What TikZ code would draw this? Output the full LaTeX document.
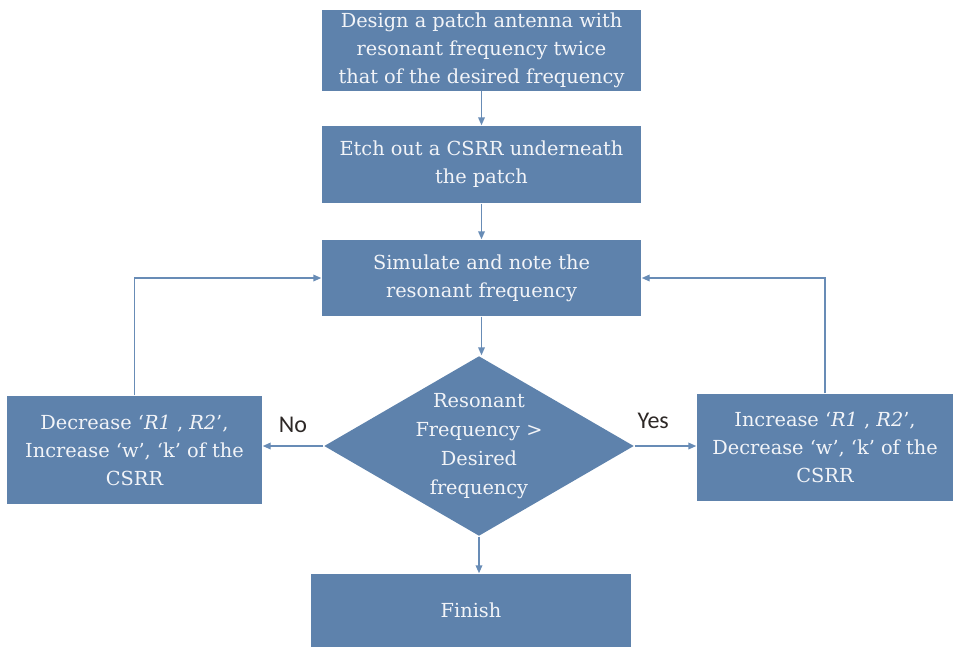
\documentclass[tikz,border=0pt]{standalone}
\usepackage{fontspec}
\setmainfont{DejaVu Serif}
\newfontfamily\answerfont{Carlito}
\usetikzlibrary{arrows.meta, positioning, shapes.geometric}
\definecolor{cbox}{RGB}{94,130,172}
\definecolor{cline}{RGB}{104,140,182}
\definecolor{ctext}{RGB}{242,244,248}
\definecolor{cdark}{RGB}{45,40,38}
\tikzset{
  every picture/.style={line width=1.1pt},
  stepbox/.style={fill=cbox, text=ctext, align=center, inner sep=2pt, font=\fontsize{14.5}{21}\selectfont},
  decision/.style={diamond, fill=cbox, inner sep=0pt, minimum width=232.5pt, minimum height=135pt},
  dectext/.style={text=ctext, align=center, font=\fontsize{14.5}{21.8}\selectfont},
  flow/.style={-{Triangle[length=6pt, width=5pt]}, draw=cline},
  answer/.style={font=\answerfont\fontsize{18}{20}\selectfont, text=cdark},
}

\begin{document}
\begin{tikzpicture}[x=0.75pt, y=-0.75pt]
  \useasboundingbox (0,0) rectangle (955,647);
  % main column
  \node[stepbox, minimum width=239.25pt, minimum height=57.75pt] (design) at (481.5,50.5)
    {Design a patch antenna with\\resonant frequency twice\\that of the desired frequency};
  \node[stepbox, minimum width=239.25pt, minimum height=57.75pt] (etch) at (481.5,164.5)
    {Etch out a CSRR underneath\\the patch};
  \node[stepbox, minimum width=239.25pt, minimum height=57pt] (simulate) at (481.5,278)
    {Simulate and note the\\resonant frequency};
  \node[decision, label={[dectext]center:{Resonant\\Frequency >\\Desired\\frequency}}] (check) at (479,446) {};
  \node[stepbox, minimum width=240pt, minimum height=54.75pt] (finish) at (471,610.5) {Finish};
  % side boxes
  \node[stepbox, minimum width=191.25pt, minimum height=81pt] (decrease) at (134.5,450)
    {Decrease `\textit{R1} , \textit{R2}',\\Increase `w', `k' of the\\CSRR};
  \node[stepbox, minimum width=192pt, minimum height=80.25pt] (increase) at (825,447.5)
    {Increase `\textit{R1} , \textit{R2}',\\Decrease `w', `k' of the\\CSRR};

  \draw[flow] (design) -- (etch);
  \draw[flow] (etch) -- (simulate);
  \draw[flow] (simulate.south) -- (simulate.south |- check.north);
  \draw[flow] (check.south) -- (check.south |- finish.north);
  \draw[flow] (check.west) -- (check.west -| decrease.east)
    node[midway, above=6pt, answer] (no) {No};
  \draw[flow] (check.east) -- (check.east -| increase.west)
    node[pos=0.3, above=9pt, answer] (yes) {Yes};
  % loops back
  \draw[flow] (decrease.north) |- (simulate.west);
  \draw[flow] (increase.north) |- (simulate.east);
\end{tikzpicture}
\end{document}
